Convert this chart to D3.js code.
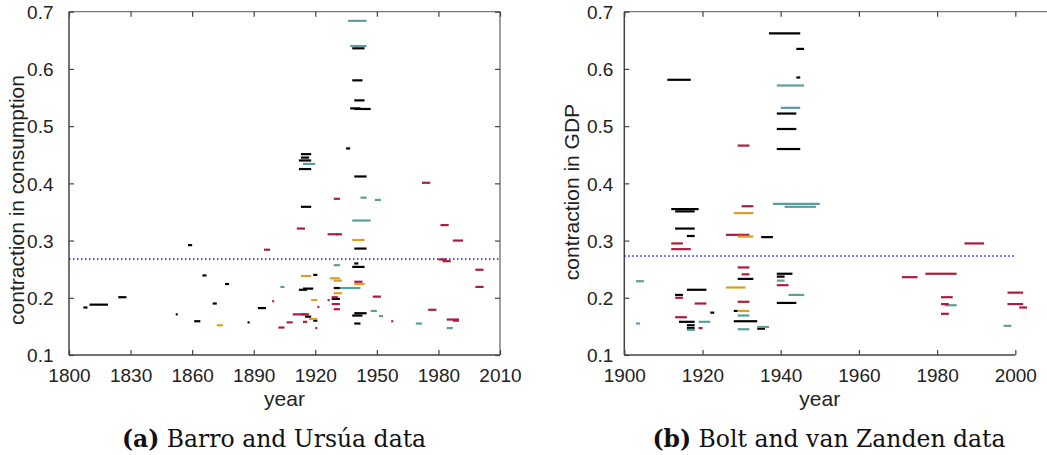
<!DOCTYPE html>
<html>
<head>
<meta charset="utf-8">
<script src="https://cdnjs.cloudflare.com/ajax/libs/d3/7.8.5/d3.min.js"></script>
<style>
  html, body { margin: 0; padding: 0; background: #fff; }
  svg { display: block; }
</style>
</head>
<body>
<svg id="chart" width="1047" height="455"></svg>
<script>
// Disaster episodes: [start year, end year, contraction]
const barroBlack = [
  [1807,1809,0.183],[1810,1819,0.188],[1824,1828,0.201],[1852,1853,0.171],
  [1858,1860,0.292],[1861,1864,0.159],[1865,1867,0.239],[1870,1872,0.190],
  [1876,1878,0.224],[1887,1888,0.157],[1892,1896,0.182],
  [1913,1918,0.451],[1913,1917,0.445],[1912,1918,0.440],[1912,1918,0.425],
  [1913,1918,0.359],[1912,1916,0.214],[1914,1919,0.216],[1919,1921,0.240],
  [1915,1918,0.167],[1919,1921,0.160],[1929,1932,0.217],[1928,1932,0.198],
  [1935,1937,0.461],[1938,1944,0.636],[1938,1943,0.580],[1939,1944,0.545],
  [1937,1942,0.531],[1939,1947,0.530],[1939,1945,0.412],[1939,1945,0.286],
  [1939,1941,0.260],[1938,1944,0.254],[1939,1945,0.173],[1938,1943,0.169],
  [1939,1942,0.155]
];
const barroTeal = [
  [1936,1945,0.684],[1937,1945,0.640],[1914,1920,0.434],[1942,1945,0.375],
  [1949,1952,0.371],[1938,1947,0.335],[1929,1932,0.257],[1903,1905,0.219],
  [1932,1942,0.217],[1947,1950,0.177],[1951,1953,0.168],[1969,1972,0.155],
  [1984,1987,0.147]
];
const barroRed = [
  [1929,1932,0.373],[1972,1976,0.401],[1981,1985,0.327],[1911,1915,0.321],
  [1926,1931,0.311],[1930,1933,0.311],[1987,1992,0.300],[1895,1898,0.284],
  [1980,1984,0.267],[1982,1986,0.264],[1998,2002,0.249],[1939,1943,0.228],
  [1998,2002,0.219],[1948,1952,0.202],[1928,1931,0.201],[1899,1900,0.194],
  [1926,1927,0.196],[1928,1932,0.189],[1921,1922,0.184],[1929,1932,0.180],
  [1975,1979,0.179],[1909,1917,0.171],[1913,1916,0.171],[1984,1990,0.162],
  [1987,1990,0.160],[1957,1958,0.159],[1914,1916,0.158],[1906,1909,0.157],
  [1902,1905,0.148],[1920,1921,0.147]
];
const barroGold = [
  [1938,1944,0.301],[1913,1918,0.238],[1927,1932,0.234],[1929,1933,0.230],
  [1939,1944,0.224],[1929,1933,0.208],[1918,1921,0.196],[1917,1921,0.163],
  [1872,1875,0.152]
];

const boltBlack = [
  [1911,1917,0.581],[1937,1945,0.662],[1944,1946,0.635],[1944,1945,0.585],
  [1939,1944,0.522],[1939,1944,0.495],[1939,1945,0.460],[1912,1919,0.355],
  [1913,1918,0.351],[1913,1918,0.321],[1916,1918,0.308],[1935,1938,0.306],
  [1939,1943,0.242],[1939,1941,0.237],[1929,1933,0.233],[1916,1921,0.214],
  [1913,1915,0.205],[1939,1944,0.191],[1928,1929,0.177],[1922,1923,0.174],
  [1928,1934,0.159],[1914,1918,0.158],[1916,1918,0.152],[1916,1918,0.147],
  [1934,1936,0.146]
];
const boltTeal = [
  [1939,1946,0.571],[1940,1945,0.532],[1938,1950,0.364],[1941,1949,0.359],
  [1903,1905,0.229],[1939,1941,0.230],[1942,1946,0.205],[1982,1985,0.187],
  [1929,1932,0.169],[1919,1922,0.158],[1903,1904,0.155],[1997,1999,0.151],
  [1934,1937,0.149],[1929,1932,0.145],[1916,1918,0.144]
];
const boltRed = [
  [1929,1932,0.466],[1930,1933,0.360],[1926,1932,0.310],[1912,1915,0.295],
  [1987,1992,0.295],[1912,1917,0.285],[1929,1932,0.253],[1977,1985,0.242],
  [1930,1932,0.241],[1971,1975,0.236],[1939,1942,0.222],[1998,2002,0.209],
  [1981,1984,0.201],[1913,1915,0.200],[1929,1932,0.193],[1918,1921,0.190],
  [1981,1983,0.189],[1998,2002,0.189],[2001,2003,0.183],[1981,1983,0.172],
  [1913,1916,0.166],[1919,1920,0.147]
];
const boltGold = [
  [1928,1933,0.348],[1929,1933,0.307],[1926,1931,0.218],[1929,1932,0.177]
];

// Threshold levels
const barroThreshold = 0.268;
const boltThreshold = 0.273;

// Tick values
const barroYearTicks = [1800,1830,1860,1890,1920,1950,1980,2010];
const boltYearTicks = [1900,1920,1940,1960,1980,2000];
const contractionTicks = [0.1,0.2,0.3,0.4,0.5,0.6,0.7];

const colors = { black: "#000000", teal: "#5a9ea0", red: "#ab1d3c", gold: "#d6a125" };

const svg = d3.select("#chart");

function panel(cfg) {
  const g = svg.append("g");
  const x = d3.scaleLinear().domain(cfg.xDomain).range([cfg.left, cfg.right]);
  const y = d3.scaleLinear().domain([0.1, 0.7]).range([355, 11.7]);
  const fmt = d3.format(".1f");
  const sans = "'Liberation Sans', Arial, sans-serif";

  // frame
  const frame = "#444";
  g.append("line").attr("x1", cfg.left).attr("x2", cfg.left).attr("y1", y(0.7)).attr("y2", y(0.1))
    .attr("stroke", frame).attr("stroke-width", 1.5);
  g.append("line").attr("x1", cfg.left).attr("x2", cfg.right).attr("y1", y(0.1)).attr("y2", y(0.1))
    .attr("stroke", frame).attr("stroke-width", 1.5);
  g.append("line").attr("x1", cfg.left).attr("x2", cfg.frameRight).attr("y1", y(0.7)).attr("y2", y(0.7))
    .attr("stroke", "#777").attr("stroke-width", 1.2);
  if (cfg.rightBorder) {
    g.append("line").attr("x1", cfg.right).attr("x2", cfg.right).attr("y1", y(0.7)).attr("y2", y(0.1))
      .attr("stroke", "#777").attr("stroke-width", 1.4);
  }

  // axes with inward ticks
  const tl = 5;
  const xb = d3.axisBottom(x).tickValues(cfg.xTicks).tickSize(-tl).tickFormat(d3.format("d")).tickPadding(0);
  const gx = g.append("g").attr("transform", `translate(0,${y(0.1)})`).call(xb);
  gx.select(".domain").remove();
  gx.selectAll(".tick line").attr("stroke", frame).attr("stroke-width", 1.2);
  gx.selectAll(".tick text").attr("y", 26.5).attr("dy", null)
    .attr("font-family", sans).attr("font-size", 19).attr("fill", "#222");

  const xt = d3.axisTop(x).tickValues(cfg.xTicks).tickSize(-tl).tickFormat("");
  const gxt = g.append("g").attr("transform", `translate(0,${y(0.7)})`).call(xt);
  gxt.select(".domain").remove();
  gxt.selectAll(".tick line").attr("stroke", frame).attr("stroke-width", 1.2);

  const yl = d3.axisLeft(y).tickValues(contractionTicks).tickSize(-tl).tickFormat(fmt).tickPadding(cfg.yPad);
  const gy = g.append("g").attr("transform", `translate(${cfg.left},0)`).call(yl);
  gy.select(".domain").remove();
  gy.selectAll(".tick line").attr("stroke", frame).attr("stroke-width", 1.2);
  gy.selectAll(".tick text").attr("x", -cfg.yPad).attr("dy", "0.36em")
    .attr("font-family", sans).attr("font-size", 19).attr("fill", "#222");

  if (cfg.rightBorder) {
    const yr = d3.axisRight(y).tickValues(contractionTicks).tickSize(-tl).tickFormat("");
    const gyr = g.append("g").attr("transform", `translate(${cfg.right},0)`).call(yr);
    gyr.select(".domain").remove();
    gyr.selectAll(".tick line").attr("stroke", frame).attr("stroke-width", 1.2);
  }

  // threshold
  g.append("line")
    .attr("x1", cfg.left).attr("x2", cfg.right)
    .attr("y1", y(cfg.threshold)).attr("y2", y(cfg.threshold))
    .attr("stroke", "#1a1aff").attr("stroke-width", 1.5)
    .attr("stroke-dasharray", "1.5,2.5");

  // episodes
  cfg.series.forEach(s => {
    g.append("g").selectAll("line").data(s.data).join("line")
      .attr("x1", d => x(d[0])).attr("x2", d => x(d[1]))
      .attr("y1", d => y(d[2])).attr("y2", d => y(d[2]))
      .attr("stroke", s.color).attr("stroke-width", 2.2);
  });

  // axis titles
  g.append("text")
    .attr("x", (cfg.left + cfg.right) / 2).attr("y", 406)
    .attr("text-anchor", "middle")
    .attr("font-family", sans).attr("font-size", 21).attr("fill", "#222")
    .text("year");
  g.append("text")
    .attr("transform", `translate(${cfg.yTitleX},${cfg.yTitleY}) rotate(-90)`)
    .attr("text-anchor", "middle")
    .attr("font-family", sans).attr("font-size", 21).attr("fill", "#222")
    .text(cfg.yTitle);

  // caption
  const cap = g.append("text")
    .attr("x", cfg.captionX).attr("y", 447)
    .attr("text-anchor", "middle")
    .attr("font-family", "'DejaVu Serif', serif").attr("font-size", 23.5).attr("fill", "#111");
  cap.append("tspan").attr("font-weight", "bold").text(cfg.captionTag);
  cap.append("tspan").text(" " + cfg.caption);
}

panel({
  xDomain: [1800, 2010], left: 69, right: 500, frameRight: 500, rightBorder: true,
  xTicks: barroYearTicks, yPad: 15.5, threshold: barroThreshold,
  yTitle: "contraction in consumption", yTitleX: 24, yTitleY: 200,
  captionX: 274, captionTag: "(a)", caption: "Barro and Ursúa data",
  series: [
    { data: barroBlack, color: colors.black },
    { data: barroTeal, color: colors.teal },
    { data: barroRed, color: colors.red },
    { data: barroGold, color: colors.gold }
  ]
});

panel({
  xDomain: [1900, 2000], left: 624.3, right: 1015.3, frameRight: 1047, rightBorder: false,
  xTicks: boltYearTicks, yPad: 11, threshold: boltThreshold,
  yTitle: "contraction in GDP", yTitleX: 579, yTitleY: 192,
  captionX: 829, captionTag: "(b)", caption: "Bolt and van Zanden data",
  series: [
    { data: boltBlack, color: colors.black },
    { data: boltTeal, color: colors.teal },
    { data: boltRed, color: colors.red },
    { data: boltGold, color: colors.gold }
  ]
});
</script>
</body>
</html>
